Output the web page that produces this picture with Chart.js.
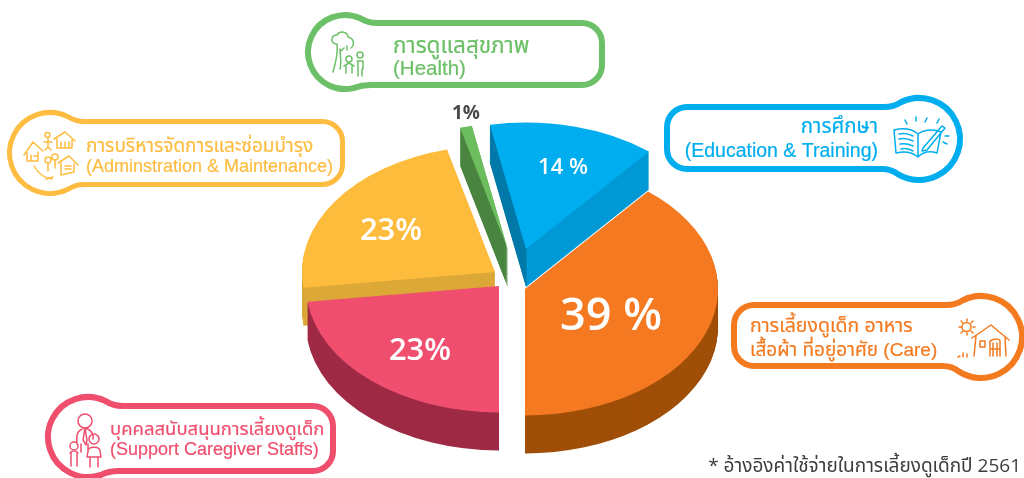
<!DOCTYPE html>
<html>
<head>
<meta charset="utf-8">
<style>
  html, body { margin: 0; padding: 0; background: #fff; }
  #wrap { width: 1024px; height: 478px; position: relative; overflow: hidden; }
</style>
</head>
<body>
<div id="wrap"><canvas id="pie" width="1024" height="478"></canvas></div>
<script src="https://cdn.jsdelivr.net/npm/chart.js@4"></script>
<script>
// data, clockwise from the blue slice
var categories = ['Education & Training', 'Care', 'Support Caregiver Staffs', 'Adminstration & Maintenance', 'Health'];
var values = [14, 39, 23, 23, 1];
var valueLabels = ['14 %', '39 %', '23%', '23%', '1%'];

// slice look
var topColors = ['#00aeef', '#f47920', '#f04e6e', '#febc3d', '#6cbd5e'];
var rimColors = ['#0099d5', '#a04f08', '#9e2a45', '#dca837', '#4a8540'];
var innerWallColors = ['#0079a8', null, null, null, null];
var explode = [[16, -23], [15, 17], [-11, 14], [-15, 0], [-2, -22]];
var drawOrder = [0, 4, 3, 2, 1];
var squash = 0.655;
var depth = 38;

// percent labels: x, y, px, colour, weight
var labelStyle = [
  [563, 168, 22, '#ffffff', '600'],
  [611, 317, 45, '#ffffff', '600'],
  [420, 351, 31, '#ffffff', '600'],
  [391, 231, 31, '#ffffff', '600'],
  [466, 114, 19, '#4a4a4a', 'bold']
];

var thaiFont = '"Liberation Sans", "Noto Sans Thai", "Noto Sans", sans-serif';

// callout boxes: side of the bulge, bulge centre + radius, box ends
// lines: text, x, baseline, font px
var callouts = [
  { color: '#6cc067', side: -1, cx: 345, cy: 52, r: 37, top: 23, bottom: 85, end: 602, lw: 6,
    lines: [['การดูแลสุขภาพ', 393, 53, 22.5], ['(Health)', 393, 75, 20.5]], align: 'left',
    icon: 'M-9 -8C-15 -9 -14 -17 -8 -17C-5 -22 3 -20 3 -15C9 -14 10 -7 6 -4M-8 -8C-7 0 -9 10 -12 20M-5 -3C-5 4 -3 10 -5 17M-1 -4L-4 -1M2 -6L2 -2' +
          'M1 7a3 3 0 1 0 6 0a3 3 0 1 0 -6 0M-1 14L4 11L9 14M1 13V21M7 13V21M12 3a3 3 0 1 0 6 0a3 3 0 1 0 -6 0M12 9H18V17M13 9V24M17 17V24' },
  { color: '#febc40', side: -1, cx: 50, cy: 153, r: 40.5, top: 121.5, bottom: 184.5, end: 342.5, lw: 5,
    lines: [['การบริหารจัดการและซ่อมบำรุง', 86, 152, 19], ['(Adminstration & Maintenance)', 86, 172, 18]], align: 'left',
    icon: 'M-26 2L-17 -11L-7 -2M-23 0V8H-12V-1M-19 2V8M-16 3H-13' +
          'M4 -14L15 -21L25 -12M7 -14V-5H22V-13M11 -11V-5M15 -11V-5M19 -11V-5' +
          'M8 10L19 3L28 12M11 10V22L24 19V11M15 13H21M15 16H21' +
          'M-5 -18a2.500 2.500 0 1 0 5 0a2.500 2.500 0 1 0 -5 0M-6 -11H2M-2 -15V-6M-5 -3L-2 -6L1 -3' +
          'M-5 7a3 3 0 1 0 6 0a3 3 0 1 0 -6 0M-2 10V18M2 4a3 3 0 1 0 6 0a3 3 0 1 0 -6 0M5 7V15M-16 13C-12 20 -6 25 2 26M-4 26L3 24' },
  { color: '#00aeef', side: 1, cx: 919, cy: 139, r: 41, top: 107, bottom: 169, end: 667, lw: 6,
    lines: [['การศึกษา', 878, 133, 20.5], ['(Education & Training)', 878, 157, 19.5]], align: 'right',
    icon: 'M-1 -5C-8 -11 -17 -11 -25 -9L-23 14C-15 12 -8 12 -1 18C5 12 12 12 18 14L22 -7C15 -10 6 -10 -1 -5ZM-1 -5V18' +
          'M-20 -5C-15 -6 -10 -5 -6 -3M-20 0C-15 -1 -10 0 -6 2M-19 5C-14 4 -10 5 -6 7M-18 10C-14 9 -10 10 -6 12' +
          'M4 9L23 -13L26 -11L8 11L3 12ZM-14 -19L-12 -15M-3 -22L-3 -18M8 -21L6 -17M20 -20L18 -16M26 -3L30 -3M24 3L28 5' },
  { color: '#f47a20', side: 1, cx: 981, cy: 337, r: 41, top: 305, bottom: 366, end: 734, lw: 6,
    lines: [['การเลี้ยงดูเด็ก อาหาร', 750, 332, 19.5], ['เสื้อผ้า ที่อยู่อาศัย (Care)', 750, 356, 19]], align: 'left',
    icon: 'M-9 1L10 -12L28 3M-5 -1L-7 19M24 0L25 19M-1 4H4V10H-1ZM9 19V4C14 1 19 2 19 4V19M12 6V19M16 6V19M9 12H19' +
          'M-19 -10a4.500 4.500 0 1 0 9 0a4.500 4.500 0 1 0 -9 0M-14 -18V-16M-14 -4V-2M-22 -10H-20M-8 -10H-6M-20 -16L-18 -14M-8 -16L-10 -14M-20 -4L-18 -6M-8 -4L-10 -6' +
          'M-23 20L-21 19M-18 20V16M-14 20V17' },
  { color: '#ef4f6d', side: -1, cx: 88, cy: 437, r: 40, top: 406, bottom: 471, end: 333, lw: 6,
    lines: [['บุคคลสนับสนุนการเลี้ยงดูเด็ก', 110, 435, 18.5], ['(Support Caregiver Staffs)', 110, 455, 18]], align: 'left',
    icon: 'M-10 -16a7 7 0 1 0 14 0a7 7 0 1 0 -14 0M-11 7C-12 -2 -11 -7 -3 -9C4 -7 6 -2 5 2M-3 -9L-5 3L-2 8L-1 3ZM-7 7V15M0 7V15' +
          'M-18 9a4 4 0 1 0 8 0a4 4 0 1 0 -8 0M-18 16C-16 13 -12 13 -10 16M-17 16V29M-11 16V29' +
          'M1 2a5 5 0 1 0 10 0a5 5 0 1 0 -10 0M0 14C0 9 12 9 12 14L13 20H-1ZM2 20V30M10 20V30' }
];

function calloutPath(ctx, c) {
  var fillet = 9, corner = 20;
  var inner = c.side > 0 ? c.end : 2 * c.cx - c.end;
  ctx.save();
  // outline is built with the bulge on the right, flipped for left-hand boxes
  if (c.side < 0) { ctx.translate(2 * c.cx, 0); ctx.scale(-1, 1); }
  var dxT = Math.sqrt(c.r * c.r - (c.cy - c.top) * (c.cy - c.top));
  var dxB = Math.sqrt(c.r * c.r - (c.bottom - c.cy) * (c.bottom - c.cy));
  var a1 = Math.atan2(c.top - c.cy, -dxT) + fillet / c.r;
  var a2 = Math.atan2(c.bottom - c.cy, -dxB) - fillet / c.r;
  ctx.beginPath();
  ctx.moveTo(inner + corner, c.top);
  ctx.lineTo(c.cx - dxT - fillet, c.top);
  ctx.quadraticCurveTo(c.cx - dxT, c.top, c.cx + c.r * Math.cos(a1), c.cy + c.r * Math.sin(a1));
  ctx.arc(c.cx, c.cy, c.r, a1, a2);
  ctx.quadraticCurveTo(c.cx - dxB, c.bottom, c.cx - dxB - fillet, c.bottom);
  ctx.lineTo(inner + corner, c.bottom);
  ctx.arcTo(inner, c.bottom, inner, c.bottom - corner, corner);
  ctx.lineTo(inner, c.top + corner);
  ctx.arcTo(inner, c.top, inner + corner, c.top, corner);
  ctx.closePath();
  ctx.restore();
}

function drawCallout(ctx, c) {
  calloutPath(ctx, c);
  ctx.fillStyle = '#fff';
  ctx.fill();
  ctx.strokeStyle = c.color;
  ctx.lineWidth = c.lw;
  ctx.stroke();

  ctx.save();
  ctx.translate(c.cx, c.cy);
  ctx.lineWidth = 1.5;
  ctx.lineJoin = 'round';
  ctx.lineCap = 'round';
  ctx.stroke(new Path2D(c.icon));
  ctx.restore();

  ctx.fillStyle = c.color;
  ctx.lineWidth = 0.2;
  ctx.textAlign = c.align;
  ctx.textBaseline = 'alphabetic';
  c.lines.forEach(function (l) {
    ctx.font = l[3] + 'px ' + thaiFont;
    ctx.fillText(l[0], l[1], l[2]);
    ctx.strokeText(l[0], l[1], l[2]);
  });
}

function drawSlice(ctx, arc, fill, dx, dy) {
  var opts = arc.options;
  arc.options = Object.assign({}, opts, { backgroundColor: fill });
  ctx.save();
  ctx.translate(dx + arc.x, dy + arc.y);
  ctx.scale(1, squash);
  ctx.translate(-arc.x, -arc.y);
  arc.draw(ctx);
  ctx.restore();
  arc.options = opts;
}

var pie3d = {
  id: 'pie3d',
  beforeDatasetDraw: function () { return false; },
  afterDatasetsDraw: function (chart) {
    var ctx = chart.ctx;
    var arcs = chart.getDatasetMeta(0).data;

    callouts.forEach(function (c) { drawCallout(ctx, c); });

    drawOrder.forEach(function (i) {
      var arc = arcs[i];
      var rim = rimColors[i];
      if (innerWallColors[i]) {
        // wall left of the apex is darker than the front one
        rim = ctx.createLinearGradient(arc.x, 0, arc.x + 1, 0);
        rim.addColorStop(0, innerWallColors[i]);
        rim.addColorStop(1, rimColors[i]);
      }
      for (var d = depth; d > 0; d--) {
        drawSlice(ctx, arc, rim, explode[i][0], explode[i][1] + d);
      }
      drawSlice(ctx, arc, topColors[i], explode[i][0], explode[i][1]);
    });

    ctx.textAlign = 'center';
    ctx.textBaseline = 'middle';
    valueLabels.forEach(function (txt, i) {
      var s = labelStyle[i];
      ctx.font = s[4] + ' ' + s[2] + 'px "Open Sans", sans-serif';
      ctx.fillStyle = s[3];
      ctx.fillText(txt, s[0], s[1]);
    });

    ctx.font = '19px "Open Sans", ' + thaiFont;
    ctx.fillStyle = '#3c3c3c';
    ctx.textAlign = 'right';
    ctx.textBaseline = 'alphabetic';
    ctx.fillText('* อ้างอิงค่าใช้จ่ายในการเลี้ยงดูเด็กปี 2561', 1021, 472);
  }
};

new Chart(document.getElementById('pie'), {
  type: 'pie',
  data: {
    labels: categories,
    datasets: [{
      data: values,
      backgroundColor: topColors,
      borderWidth: 0
    }]
  },
  options: {
    responsive: false,
    animation: false,
    events: [],
    rotation: 349.2,
    radius: 193,
    layout: { padding: { top: 66, right: 4 } },
    plugins: { legend: { display: false }, tooltip: { enabled: false } }
  },
  plugins: [pie3d]
});
</script>
</body>
</html>
